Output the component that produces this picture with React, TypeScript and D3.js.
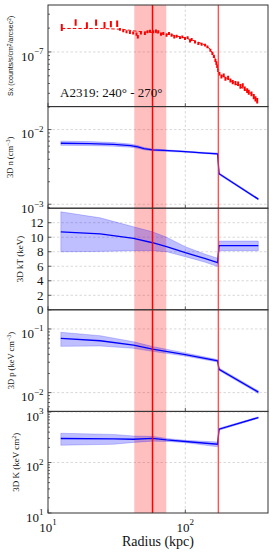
import React from 'react';
import * as d3 from 'd3';

// ---------- data ----------
// Surface brightness (units of 1e-7 counts/s/cm^2/arcsec^2)
const sxRadius = [12.6, 15.9, 19.2, 22.4, 25.8, 28.7, 31.9, 33.4, 35.3, 37.3, 39.5, 41.7, 44.1, 45.1, 47.5, 50.8, 53.1, 55.3, 58.4, 61.1, 63.5, 66.5, 69.1, 73.0, 76.0, 79.4, 83.1, 86.4, 91.5, 95.1, 99.5, 103.9, 108.2, 111.2, 117.7, 124.4, 131.5, 139.3, 144.8, 152.2, 157.4, 161.4, 165.6, 168.4, 170.7, 173.3, 177.1, 183.2, 190.4, 195.9, 205.0, 213.1, 221.5, 231.7, 242.5, 252.0, 261.9, 270.9, 282.1, 289.7, 303.2, 315.1, 324.3, 333.8];
const sxValue = [2.05, 2.37, 2.17, 2.36, 2.18, 2.25, 2.28, 1.93, 1.85, 1.80, 1.76, 1.74, 1.68, 1.56, 1.74, 1.71, 1.80, 1.83, 1.80, 1.85, 1.80, 1.68, 1.71, 1.63, 1.71, 1.63, 1.55, 1.58, 1.52, 1.55, 1.48, 1.52, 1.38, 1.44, 1.34, 1.28, 1.25, 1.22, 1.16, 1.05, 0.96, 0.88, 0.78, 0.72, 0.66, 0.585, 0.53, 0.49, 0.506, 0.46, 0.473, 0.437, 0.416, 0.404, 0.397, 0.367, 0.378, 0.343, 0.326, 0.31, 0.296, 0.274, 0.256, 0.243];
const sxErr = [0.18, 0.19, 0.17, 0.18, 0.17, 0.17, 0.18, 0.05, 0.05, 0.05, 0.05, 0.05, 0.05, 0.06, 0.05, 0.05, 0.05, 0.05, 0.05, 0.05, 0.05, 0.05, 0.05, 0.05, 0.05, 0.05, 0.05, 0.05, 0.04, 0.04, 0.04, 0.04, 0.04, 0.04, 0.04, 0.035, 0.035, 0.035, 0.03, 0.03, 0.03, 0.03, 0.025, 0.025, 0.025, 0.02, 0.02, 0.02, 0.02, 0.02, 0.02, 0.02, 0.02, 0.02, 0.02, 0.02, 0.02, 0.018, 0.018, 0.018, 0.017, 0.017, 0.016, 0.016];
const sxModelRadius = [12.6, 25, 35, 45, 60, 80, 100, 120, 140, 152, 160, 166, 171, 176, 190, 220, 260, 300, 334];
const sxModelValue = [1.98, 1.98, 1.93, 1.82, 1.76, 1.64, 1.5, 1.36, 1.22, 1.08, 0.93, 0.8, 0.65, 0.52, 0.49, 0.42, 0.35, 0.3, 0.245];

// 3D density (cm^-3)
const nRadius = [12.4, 20, 30, 40, 45, 50, 57.7, 70, 100, 140, 172, 176, 340];
const nValue = [6.56e-3, 6.5e-3, 6.35e-3, 6.1e-3, 5.85e-3, 5.55e-3, 5.35e-3, 5.25e-3, 5.05e-3, 4.85e-3, 4.74e-3, 2.56e-3, 1.17e-3];
const nLo = [6.15e-3, 6.1e-3, 6.0e-3, 5.8e-3, 5.6e-3, 5.35e-3, 5.2e-3, 5.12e-3, 4.95e-3, 4.76e-3, 4.62e-3, 2.48e-3, 1.14e-3];
const nHi = [7.0e-3, 6.9e-3, 6.7e-3, 6.4e-3, 6.1e-3, 5.75e-3, 5.5e-3, 5.38e-3, 5.15e-3, 4.94e-3, 4.86e-3, 2.64e-3, 1.2e-3];

// 3D temperature (keV)
const tRadius = [12.4, 24, 42, 57.7, 73, 100, 140, 172, 176, 340];
const tValue = [10.75, 10.45, 9.84, 9.24, 8.7, 7.87, 7.05, 6.5, 8.83, 8.83];
const tLo = [8.0, 8.05, 8.15, 8.15, 8.0, 7.32, 6.55, 5.95, 8.14, 8.14];
const tHi = [13.5, 12.67, 11.43, 10.75, 10.0, 8.69, 7.65, 7.1, 9.47, 9.47];

// 3D pressure (keV cm^-3)
const pRadius = [12.4, 24, 42, 57.7, 100, 172, 176, 340];
const pValue = [0.0713, 0.0653, 0.0558, 0.0483, 0.0395, 0.0316, 0.0233, 0.0102];
const pLo = [0.0533, 0.054, 0.0496, 0.0445, 0.0375, 0.0302, 0.0222, 0.0097];
const pHi = [0.0887, 0.0783, 0.063, 0.053, 0.042, 0.033, 0.0244, 0.0107];

// 3D entropy (keV cm^2)
const kRadius = [12.4, 30, 42, 57.7, 73, 100, 172, 176, 340];
const kValue = [299, 293, 289, 302, 280, 261, 230, 457, 777];
const kLo = [220, 230, 250, 265, 262, 248, 205, 438, 750];
const kHi = [380, 360, 335, 330, 300, 275, 255, 478, 805];

const frontRadius = 57.7;
const shockRadius = 174;
const bandRange = [42.5, 72.6];

const xDomain = [10, 400];
const xTickValues = [10, 100];
const xTickExps = ['1', '2'];

// ---------- layout ----------
const L = 48, R = 268, T0 = 5, PH = 101.6;
const FONT = '"Liberation Serif", "DejaVu Serif", serif';
const SANS = '"Liberation Sans", "DejaVu Sans", sans-serif';

type Panel = {
  key: string;
  log: boolean;
  domain: [number, number];
  label: React.ReactNode;
  labelX: number;
  labelFs: number;
  labelFont: string;
};

const panels: Panel[] = [
  { key: 'sx', log: true, domain: [0.204, 3.92], labelX: 11, labelFs: 7, labelFont: SANS,
    label: <>Sx (counts/s/cm<tspan dy={-2.5} fontSize={5}>2</tspan><tspan dy={2.5}>/arcsec</tspan><tspan dy={-2.5} fontSize={5}>2</tspan><tspan dy={2.5}>)</tspan></> },
  { key: 'n', log: true, domain: [8.85e-4, 2.03e-2], labelX: 10.5, labelFs: 8.5, labelFont: FONT,
    label: <>3D n (cm<tspan dy={-3} fontSize={6}>−3</tspan><tspan dy={3}>)</tspan></> },
  { key: 't', log: false, domain: [0, 14], labelX: 20, labelFs: 9, labelFont: FONT,
    label: <>3D kT (keV)</> },
  { key: 'p', log: true, domain: [5.07e-3, 0.2], labelX: 11, labelFs: 8.5, labelFont: FONT,
    label: <>3D p (keV cm<tspan dy={-3} fontSize={6}>−3</tspan><tspan dy={3}>)</tspan></> },
  { key: 'k', log: true, domain: [10, 1030], labelX: 16, labelFs: 9, labelFont: FONT,
    label: <>3D K (keV cm<tspan dy={-3} fontSize={6}>2</tspan><tspan dy={3}>)</tspan></> },
];

const profiles: Record<string, { r: number[]; v: number[]; lo: number[]; hi: number[] }> = {
  n: { r: nRadius, v: nValue, lo: nLo, hi: nHi },
  t: { r: tRadius, v: tValue, lo: tLo, hi: tHi },
  p: { r: pRadius, v: pValue, lo: pLo, hi: pHi },
  k: { r: kRadius, v: kValue, lo: kLo, hi: kHi },
};

const sxUnitExp = -7;

export default function App() {
  const x = d3.scaleLog().domain(xDomain).range([L, R]);

  const renderPanel = (pn: Panel, i: number) => {
    const top = T0 + i * PH;
    const bottom = top + PH;
    const y: any = pn.log
      ? d3.scaleLog().domain(pn.domain).range([bottom, top])
      : d3.scaleLinear().domain(pn.domain).range([bottom, top]);
    const clipId = `clip-${pn.key}`;

    const major: { v: number; label: React.ReactNode }[] = [];
    const minor: number[] = [];
    if (pn.log) {
      const [d0, d1] = pn.domain;
      const e0 = Math.floor(Math.log10(d0)), e1 = Math.ceil(Math.log10(d1));
      for (let e = e0; e <= e1; e++) {
        const base = Math.pow(10, e);
        if (base >= d0 * 0.999 && base <= d1 * 1.001) {
          const exp = pn.key === 'sx' ? e + sxUnitExp : e;
          major.push({ v: base, label: String(exp).replace('-', '−') });
        }
        for (let k = 2; k <= 9; k++) {
          const m = k * base;
          if (m > d0 && m < d1) minor.push(m);
        }
      }
    } else {
      for (let t = 0; t <= 12; t += 2) major.push({ v: t, label: String(t) });
    }

    const prof = profiles[pn.key];
    const area = d3.area<number>()
      .x((_, j) => x(prof ? prof.r[j] : 0))
      .y0((_, j) => y(prof.lo[j]))
      .y1((_, j) => y(prof.hi[j]));
    const line = d3.line<number>()
      .x((_, j) => x(prof.r[j]))
      .y((d) => y(d));

    const modelLine = d3.line<number>()
      .x((_, j) => x(sxModelRadius[j]))
      .y((d) => y(d));

    return (
      <g key={pn.key}>
        <defs>
          <clipPath id={clipId}>
            <rect x={L} y={top} width={R - L} height={PH} />
          </clipPath>
        </defs>
        <g stroke="#cfcfcf" strokeWidth={0.8} strokeDasharray="2.5,2">
          {xTickValues.filter((v) => v > xDomain[0]).map((v) => (
            <line key={`gx${v}`} x1={x(v)} x2={x(v)} y1={top} y2={bottom} />
          ))}
          {major.filter((m) => y(m.v) > top + 0.5 && y(m.v) < bottom - 0.5).map((m) => (
            <line key={`gy${m.v}`} x1={L} x2={R} y1={y(m.v)} y2={y(m.v)} />
          ))}
        </g>
        <g clipPath={`url(#${clipId})`}>
          <rect x={x(bandRange[0])} width={x(bandRange[1]) - x(bandRange[0])} y={top} height={PH}
            fill="#ff0000" fillOpacity={0.25} />
          {pn.key === 'sx' ? (
            <g>
              <path d={modelLine(sxModelValue) || ''} fill="none" stroke="#ff0000" strokeWidth={1}
                strokeDasharray="3.5,2" />
              {sxValue.map((v, j) => {
                const e = sxErr[j] ?? 0.02;
                const cx = x(sxRadius[j]);
                return (
                  <line key={j} x1={cx} x2={cx}
                    y1={y(v + e) - 0.5} y2={y(Math.max(v - e, 0.01)) + 0.5}
                    stroke="#ff0000" strokeWidth={2} />
                );
              })}
            </g>
          ) : (
            <g>
              <path d={area(prof.v) || ''} fill="#0000ff" fillOpacity={0.25}
                stroke="#0000ff" strokeOpacity={0.25} strokeWidth={0.8} />
              <path d={line(prof.v) || ''} fill="none" stroke="#0000ff" strokeWidth={1.3} />
            </g>
          )}
          <line x1={x(frontRadius)} x2={x(frontRadius)} y1={top} y2={bottom} stroke="#ff0000" strokeWidth={1.5} />
          <line x1={x(shockRadius)} x2={x(shockRadius)} y1={top} y2={bottom} stroke="#ff3030" strokeOpacity={0.85} strokeWidth={1.4} />
        </g>
        <g stroke="#222" strokeWidth={0.7}>
          {major.map((m) => (
            <line key={`mt${m.v}`} x1={L} x2={L + 3.5} y1={y(m.v)} y2={y(m.v)} />
          ))}
          {minor.map((m) => (
            <line key={`nt${m}`} x1={L} x2={L + 2} y1={y(m)} y2={y(m)} />
          ))}
          {xTickValues.map((v) => (
            <line key={`xt${v}`} x1={x(v)} x2={x(v)} y1={bottom} y2={bottom - 3.5} />
          ))}
        </g>
        <g fontFamily={FONT} fill="#111">
          {major.map((m) =>
            pn.log ? (
              <text key={`tl${m.v}`} x={L - 4.5} y={y(m.v) + 8.8} textAnchor="end">
                <tspan fontSize={13}>10</tspan>
                <tspan fontSize={9} dy={-6.5}>{m.label}</tspan>
              </text>
            ) : (
              <text key={`tl${m.v}`} x={L - 4.5} y={y(m.v) + 4.5} textAnchor="end" fontSize={13}>
                {m.label}
              </text>
            )
          )}
        </g>
        <text transform={`translate(${pn.labelX},${(top + bottom) / 2}) rotate(-90)`} y={pn.labelFs * 0.35}
          textAnchor="middle" fontFamily={pn.labelFont} fontSize={pn.labelFs} fill="#111">
          {pn.label}
        </text>
        <rect x={L} y={top} width={R - L} height={PH} fill="none" stroke="#333" strokeWidth={1} />
      </g>
    );
  };

  const bottomY = T0 + panels.length * PH;

  return (
    <svg width={273} height={555} style={{ position: 'absolute', left: 0, top: 0, background: '#fff' }}>
      <rect x={0} y={0} width={273} height={555} fill="#fff" />
      {panels.map(renderPanel)}
      <text x={60} y={97} fontFamily={FONT} fontSize={13} fill="#111">A2319: 240° - 270°</text>
      {xTickValues.map((v, j) => (
        <text key={`xl${v}`} x={x(v)} y={bottomY + 18.5} textAnchor="middle" fontFamily={FONT} fill="#111">
          <tspan fontSize={13}>10</tspan>
          <tspan fontSize={9} dy={-6.5}>{xTickExps[j]}</tspan>
        </text>
      ))}
      <text x={158} y={bottomY + 33} textAnchor="middle" fontFamily={FONT} fontSize={14} fill="#111">
        Radius (kpc)
      </text>
    </svg>
  );
}
